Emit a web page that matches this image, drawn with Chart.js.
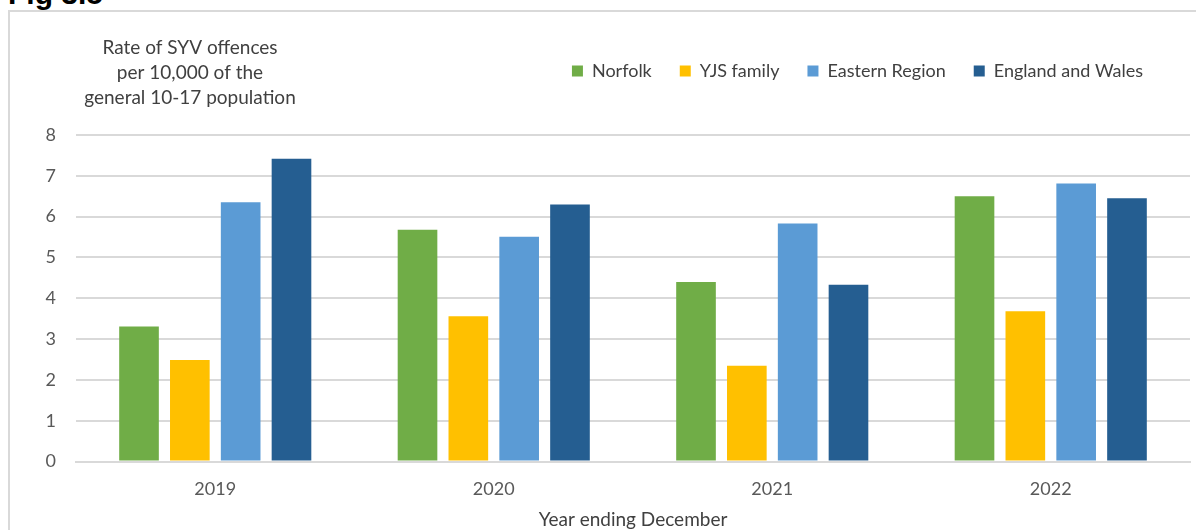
<!DOCTYPE html>
<html lang="en">
<head>
  <meta charset="UTF-8">
  <title>Fig 3.5</title>
  <script src="https://cdn.jsdelivr.net/npm/chart.js"></script>
  <style>
body {
  margin: 0;
  background: #fff;
  width: 1196px;
  height: 530px;
  overflow: hidden;
  position: relative;
  font-family: Lato, sans-serif;
}

.fig-title {
  position: absolute;
  left: 8px;
  top: -22px;
  font-family: "Liberation Sans", Arial, sans-serif;
  font-weight: bold;
  font-size: 30px;
  line-height: 32px;
  color: #000;
}

.frame {
  position: absolute;
  left: 8px;
  top: 10px;
  width: 1400px;
  height: 700px;
  border-top: 2px solid #d9d9d9;
  border-left: 2px solid #d9d9d9;
}

.chart-box {
  position: absolute;
  left: 0;
  top: 0;
  width: 1186px;
  height: 522px;
}
  </style>
</head>
<body>
  <div class="fig-title">Fig 3.5</div>
  <div class="frame">
    <div class="chart-box">
      <canvas id="syvChart"></canvas>
    </div>
  </div>
  <script>
    // values
    var years = ['2019', '2020', '2021', '2022'];
    var norfolk = [3.31, 5.68, 4.40, 6.50];
    var yjsFamily = [2.49, 3.56, 2.35, 3.68];
    var easternRegion = [6.35, 5.51, 5.83, 6.81];
    var englandWales = [7.42, 6.30, 4.33, 6.45];
    var yTitleLines = ['Rate of SYV offences', 'per 10,000 of the', 'general 10-17 population'];
    var xTitle = 'Year ending December';

    var LEGEND_PAD = 28;

    // put the legend where the original has it (right end of text near x=1133)
    var legendPlace = {
      id: 'legendPlace',
      afterLayout: function(chart) {
        var lg = chart.legend;
        if (!lg) return;
        var dx = lg.right - (1133 + LEGEND_PAD);
        lg.left -= dx;
        lg.right -= dx;
        var h = lg.bottom - lg.top;
        lg.top = 59 - LEGEND_PAD - 9;
        lg.bottom = lg.top + h;
      }
    };

    // horizontal y axis title in the top left corner
    var yTitle = {
      id: 'yTitle',
      afterDraw: function(chart) {
        var c = chart.ctx;
        c.save();
        c.font = '19px Lato';
        c.fillStyle = '#404040';
        c.textAlign = 'center';
        c.textBaseline = 'middle';
        yTitleLines.forEach(function(line, i) {
          c.fillText(line, 180, 36 + i * 25);
        });
        c.restore();
      }
    };

    var ctx = document.getElementById('syvChart').getContext('2d');
    var chart = new Chart(ctx, {
      type: 'bar',
      data: {
        labels: years,
        datasets: [
          { label: 'Norfolk', data: norfolk, backgroundColor: '#70ad47' },
          { label: 'YJS family', data: yjsFamily, backgroundColor: '#ffc000' },
          { label: 'Eastern Region', data: easternRegion, backgroundColor: '#5b9bd5' },
          { label: 'England and Wales', data: englandWales, backgroundColor: '#255e91' }
        ]
      },
      options: {
        responsive: true,
        maintainAspectRatio: false,
        animation: false,
        barPercentage: 0.78,
        categoryPercentage: 0.73,
        layout: {
          padding: { top: 67, right: 6, left: 0, bottom: 0 }
        },
        plugins: {
          tooltip: { enabled: false },
          legend: {
            position: 'top',
            align: 'end',
            labels: {
              boxWidth: 11,
              boxHeight: 11,
              padding: LEGEND_PAD,
              color: '#404040',
              font: { family: 'Lato', size: 18 }
            }
          }
        },
        scales: {
          x: {
            grid: { display: false, drawTicks: false },
            border: { display: true, color: '#d9d9d9', width: 2 },
            ticks: {
              color: '#595959',
              padding: 17,
              font: { family: 'Lato', size: 18 }
            },
            title: {
              display: true,
              text: xTitle,
              color: '#404040',
              font: { family: 'Lato', size: 19 },
              padding: { top: -9, bottom: 3 }
            }
          },
          y: {
            min: 0,
            max: 8,
            afterFit: function(scale) { scale.width = 66; },
            grid: { color: '#d9d9d9', lineWidth: 2, drawTicks: false },
            border: { display: false },
            ticks: {
              stepSize: 1,
              color: '#595959',
              padding: 20,
              font: { family: 'Lato', size: 18 }
            }
          }
        }
      },
      plugins: [legendPlace, yTitle]
    });
  </script>
</body>
</html>
